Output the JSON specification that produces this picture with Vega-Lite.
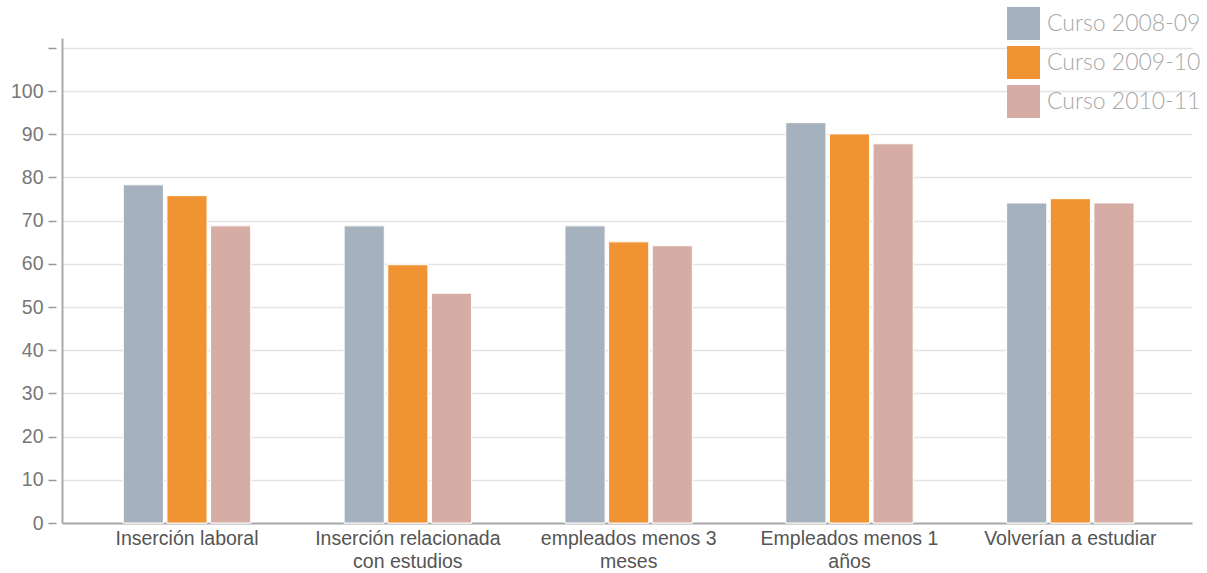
{
  "$schema": "https://vega.github.io/schema/vega-lite/v6.json",
  "width": 1130,
  "height": 485,
  "autosize": {"type": "none"},
  "padding": {"left": 62, "top": 38, "right": 15, "bottom": 50},
  "background": "white",
  "config": {"view": {"stroke": null}},
  "data": {
    "values": [
      {"indicador": "Inserción laboral", "curso": "Curso 2008-09", "valor": 78.3},
      {"indicador": "Inserción laboral", "curso": "Curso 2009-10", "valor": 75.8},
      {"indicador": "Inserción laboral", "curso": "Curso 2010-11", "valor": 68.8},
      {"indicador": "Inserción relacionada\ncon estudios", "curso": "Curso 2008-09", "valor": 68.8},
      {"indicador": "Inserción relacionada\ncon estudios", "curso": "Curso 2009-10", "valor": 59.8},
      {"indicador": "Inserción relacionada\ncon estudios", "curso": "Curso 2010-11", "valor": 53.2},
      {"indicador": "empleados menos 3\nmeses", "curso": "Curso 2008-09", "valor": 68.8},
      {"indicador": "empleados menos 3\nmeses", "curso": "Curso 2009-10", "valor": 65.1},
      {"indicador": "empleados menos 3\nmeses", "curso": "Curso 2010-11", "valor": 64.2},
      {"indicador": "Empleados menos 1\naños", "curso": "Curso 2008-09", "valor": 92.7},
      {"indicador": "Empleados menos 1\naños", "curso": "Curso 2009-10", "valor": 90.1},
      {"indicador": "Empleados menos 1\naños", "curso": "Curso 2010-11", "valor": 87.8},
      {"indicador": "Volverían a estudiar", "curso": "Curso 2008-09", "valor": 74.1},
      {"indicador": "Volverían a estudiar", "curso": "Curso 2009-10", "valor": 75.1},
      {"indicador": "Volverían a estudiar", "curso": "Curso 2010-11", "valor": 74.1}
    ]
  },
  "encoding": {
    "x": {
      "field": "indicador",
      "type": "nominal",
      "sort": null,
      "scale": {"paddingInner": 0.423, "paddingOuter": 0.27, "align": 0.514},
      "axis": {
        "title": null,
        "labelAngle": 0,
        "labelExpr": "split(datum.value, '\\n')",
        "labelFont": "Liberation Sans",
        "labelFontSize": 19.5,
        "labelColor": "#555555",
        "labelLineHeight": 23,
        "labelPadding": 6,
        "labelLimit": 0,
        "labelOverlap": false,
        "ticks": false,
        "domainColor": "#aaaaaa",
        "domainWidth": 2,
        "grid": false
      }
    },
    "xOffset": {
      "field": "curso",
      "type": "nominal",
      "scale": {"paddingInner": 0.08}
    },
    "color": {
      "field": "curso",
      "type": "nominal",
      "scale": {
        "domain": ["Curso 2008-09", "Curso 2009-10", "Curso 2010-11"],
        "range": ["#A5B2BE", "#F09433", "#D6ADA5"]
      },
      "legend": {
        "title": null,
        "orient": "none",
        "legendX": 945,
        "legendY": -31,
        "padding": 0,
        "symbolType": "square",
        "symbolSize": 1089,
        "symbolStrokeWidth": 0,
        "symbolOpacity": 1,
        "rowPadding": 6,
        "labelOffset": 7,
        "labelFont": "Lato",
        "labelFontWeight": 300,
        "labelFontSize": 23,
        "labelColor": "#a8a8a8"
      }
    }
  },
  "layer": [
    {
      "mark": {"type": "bar", "stroke": "white", "strokeWidth": 1},
      "encoding": {
        "y": {
          "field": "valor",
          "type": "quantitative",
          "scale": {"domain": [0, 112.3], "nice": false, "zero": true},
          "axis": {
            "title": null,
            "orient": "left",
            "values": [0, 10, 20, 30, 40, 50, 60, 70, 80, 90, 100, 110],
            "domain": true,
            "domainColor": "#aaaaaa",
            "domainWidth": 2,
            "ticks": false,
            "labels": false,
            "grid": true,
            "gridColor": "#e4e4e4",
            "gridWidth": 1.5
          }
        }
      }
    },
    {
      "mark": {"type": "bar", "stroke": "white", "strokeWidth": 1},
      "encoding": {
        "y": {
          "field": "valor",
          "type": "quantitative",
          "scale": {"domain": [0, 112.3], "nice": false, "zero": true},
          "axis": {
            "title": null,
            "orient": "left",
            "values": [0, 10, 20, 30, 40, 50, 60, 70, 80, 90, 100, 110],
            "labelExpr": "datum.value > 100 ? '' : datum.label",
            "offset": 6,
            "domain": false,
            "tickSize": 8,
            "tickColor": "#999999",
            "tickWidth": 1.5,
            "labelFont": "Liberation Sans",
            "labelFontSize": 19.5,
            "labelColor": "#777777",
            "labelPadding": 5,
            "grid": false
          }
        }
      }
    }
  ],
  "resolve": {"axis": {"y": "independent"}}
}
